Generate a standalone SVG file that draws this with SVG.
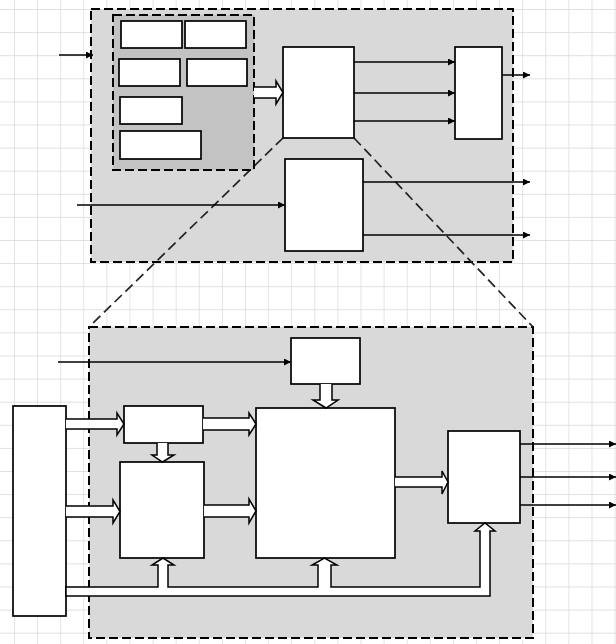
<svg xmlns="http://www.w3.org/2000/svg" width="616" height="644" viewBox="0 0 616 644">
<style>
.box{fill:#fff;stroke:#000;stroke-width:1.7}
.outer{fill:#d9d9d9;stroke:#000;stroke-width:2;stroke-dasharray:9,4}
.inner{fill:#c3c3c3;stroke:#000;stroke-width:2;stroke-dasharray:9,4}
.ln{fill:none;stroke:#000;stroke-width:1.5;marker-end:url(#ah)}
.zoom{fill:none;stroke:#222;stroke-width:1.7;stroke-dasharray:10,5}
.blk{fill:#fff;stroke:#000;stroke-width:1.5;stroke-linejoin:miter}
</style>
<defs>
<pattern id="grid" x="14" y="9" width="23.1" height="23.1" patternUnits="userSpaceOnUse">
<path d="M0,0 H23.1 M0,0 V23.1" fill="none" stroke="#d6d6d6" stroke-width="1.3"/>
</pattern>
<marker id="ah" viewBox="0 0 10 10" refX="10" refY="5" markerWidth="9" markerHeight="7" markerUnits="userSpaceOnUse" orient="auto">
<path d="M0,0 L10,5 L0,10 z" fill="#000"/>
</marker>
</defs>
<rect width="616" height="644" fill="#fff"/>
<rect width="616" height="644" fill="url(#grid)"/>

<g id="top-section">
<rect class="outer" x="91" y="9" width="422" height="253"/>
</g>
<g id="bottom-section">
<rect class="outer" x="89" y="327" width="444" height="311"/>
</g>
<g id="zoom-lines">
<line class="zoom" x1="283" y1="138" x2="89" y2="327"/>
<line class="zoom" x1="354" y1="138" x2="533" y2="327"/>
</g>

<g id="register-group">
<rect class="inner" x="113" y="15" width="141" height="155"/>
<rect class="box" x="121" y="21" width="61" height="27"/>
<rect class="box" x="185" y="21" width="61" height="27"/>
<rect class="box" x="119" y="59" width="61" height="27"/>
<rect class="box" x="187" y="59" width="60" height="27"/>
<rect class="box" x="120" y="97" width="62" height="27"/>
<rect class="box" x="120" y="131" width="81" height="28"/>
</g>
<g id="top-block-1"><rect class="box" x="283" y="47" width="71" height="91"/></g>
<g id="top-block-2"><rect class="box" x="285" y="159" width="78" height="92"/></g>
<g id="top-block-3"><rect class="box" x="455" y="47" width="47" height="92"/></g>

<g id="bottom-top-block"><rect class="box" x="291" y="338" width="69" height="46"/></g>
<g id="left-tall-block"><rect class="box" x="13" y="406" width="53" height="210"/></g>
<g id="small-block"><rect class="box" x="124" y="406" width="79" height="37"/></g>
<g id="medium-block"><rect class="box" x="120" y="462" width="84" height="96"/></g>
<g id="big-block"><rect class="box" x="256" y="408" width="139" height="150"/></g>
<g id="right-block"><rect class="box" x="448" y="431" width="72" height="92"/></g>

<g id="connectors">
<line class="ln" x1="59" y1="55" x2="93" y2="55"/>
<line class="ln" x1="77" y1="205" x2="285" y2="205"/>
<line class="ln" x1="354" y1="62" x2="455" y2="62"/>
<line class="ln" x1="354" y1="93" x2="455" y2="93"/>
<line class="ln" x1="354" y1="121" x2="455" y2="121"/>
<line class="ln" x1="502" y1="75" x2="530" y2="75"/>
<line class="ln" x1="363" y1="182" x2="530" y2="182"/>
<line class="ln" x1="363" y1="235" x2="530" y2="235"/>
<line class="ln" x1="58" y1="362" x2="291" y2="362"/>
<line class="ln" x1="520" y1="444" x2="616" y2="444"/>
<line class="ln" x1="520" y1="477" x2="616" y2="477"/>
<line class="ln" x1="520" y1="505" x2="616" y2="505"/>

<path class="blk" d="M254,87 H276 V81 L283,92.5 L276,104 V98 H254"/>
<path class="blk" d="M66,419 H117 V413 L124,424 L117,435 V429 H66"/>
<path class="blk" d="M203,418 H249 V413 L256,424 L249,435 V430 H203"/>
<path class="blk" d="M66,506 H113 V500 L120,511.5 L113,523 V517 H66"/>
<path class="blk" d="M204,505 H249 V499 L256,511 L249,523 V517 H204"/>
<path class="blk" d="M395,477 H442 V471 L448,482 L442,494 V487 H395"/>
<path class="blk" d="M157,443 V455 H152 L162.5,462 L174,455 H168 V443"/>
<path class="blk" d="M320,384 V400 H313 L326,408 L338,400 H332 V384"/>
<path class="blk" d="M66,587 H158 V565 H152 L163,558 L174,565 H168 V587 H318 V565 H312 L324.5,558 L337,565 H331 V587 H480 V531 H475 L485,523 L495,531 H490 V596 H66 Z"/>
</g>
</svg>
